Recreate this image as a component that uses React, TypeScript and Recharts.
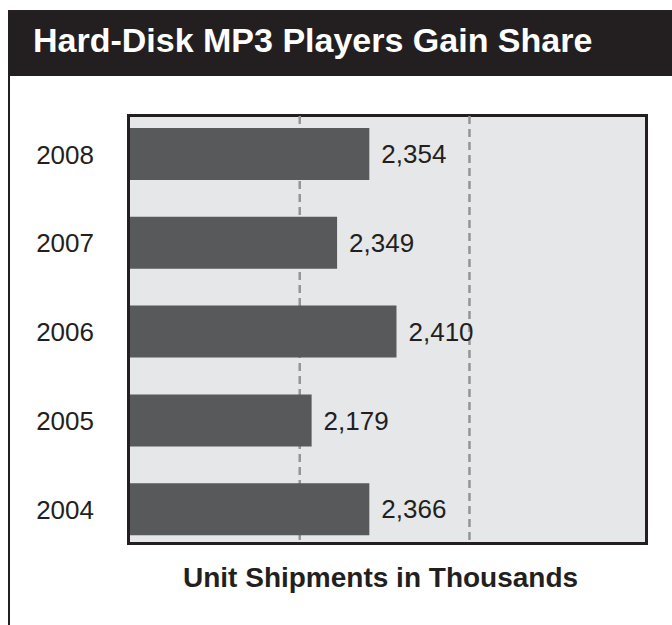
import { Bar, BarChart, CartesianGrid, LabelList, XAxis, YAxis } from "recharts";

// years top to bottom, as printed
const years = ["2008", "2007", "2006", "2005", "2004"];
// printed value labels (unit shipments, thousands)
const shipmentLabels = ["2,354", "2,349", "2,410", "2,179", "2,366"];
// bar lengths as drawn in the original (its bars are not to scale with the labels)
const barLengths = [1.41, 1.22, 1.57, 1.07, 1.41];
const gridTicks = [1, 2];

const data = years.map((year, i) => ({
  year,
  length: barLengths[i],
  label: shipmentLabels[i],
}));

const ink = "#231f20";
const font = '"Liberation Sans", Arial, Helvetica, sans-serif';

export default function App() {
  return (
    <div
      style={{
        position: "absolute",
        left: 0,
        top: 0,
        width: 672,
        height: 625,
        background: "#fff",
        fontFamily: font,
        overflow: "hidden",
      }}
    >
      {/* title bar */}
      <div
        style={{
          position: "absolute",
          left: 8,
          top: 10,
          width: 664,
          height: 66,
          background: ink,
          color: "#fff",
          fontWeight: 700,
          fontSize: 34,
          lineHeight: "60px",
          paddingLeft: 25,
          boxSizing: "border-box",
          whiteSpace: "nowrap",
        }}
      >
        Hard-Disk MP3 Players Gain Share
      </div>
      {/* left rule */}
      <div
        style={{ position: "absolute", left: 8, top: 76, width: 2, height: 549, background: ink }}
      />
      {/* plot frame */}
      <div
        style={{
          position: "absolute",
          left: 127,
          top: 114,
          width: 521,
          height: 431,
          boxSizing: "border-box",
          border: `3px solid ${ink}`,
          background: "#e6e7e8",
        }}
      />
      <div style={{ position: "absolute", left: 0, top: 0 }}>
        <BarChart
          width={672}
          height={625}
          data={data}
          layout="vertical"
          margin={{ top: 116, right: 26, bottom: 82, left: 0 }}
        >
          <CartesianGrid
            horizontal={false}
            syncWithTicks
            stroke="#939598"
            strokeWidth={2.5}
            strokeDasharray="8 5"
          />
          <XAxis
            type="number"
            domain={[0, 3.04]}
            ticks={gridTicks}
            height={0}
            axisLine={false}
            tickLine={false}
            tick={() => <g />}
          />
          <YAxis
            type="category"
            dataKey="year"
            width={130}
            axisLine={false}
            tickLine={false}
            tickSize={0}
            tickMargin={36}
            padding={{ top: -6, bottom: -11 }}
            tick={{ fontSize: 26, fill: ink, fontFamily: font }}
          />
          <Bar dataKey="length" fill="#58595b" barSize={52} isAnimationActive={false}>
            <LabelList
              dataKey="label"
              position="right"
              offset={12}
              style={{ fontSize: 26, fill: ink, fontFamily: font }}
            />
          </Bar>
        </BarChart>
      </div>
      {/* axis title */}
      <div
        style={{
          position: "absolute",
          left: 183,
          top: 564,
          fontSize: 28,
          lineHeight: "28px",
          fontWeight: 700,
          color: ink,
          whiteSpace: "nowrap",
        }}
      >
        Unit Shipments in Thousands
      </div>
    </div>
  );
}
